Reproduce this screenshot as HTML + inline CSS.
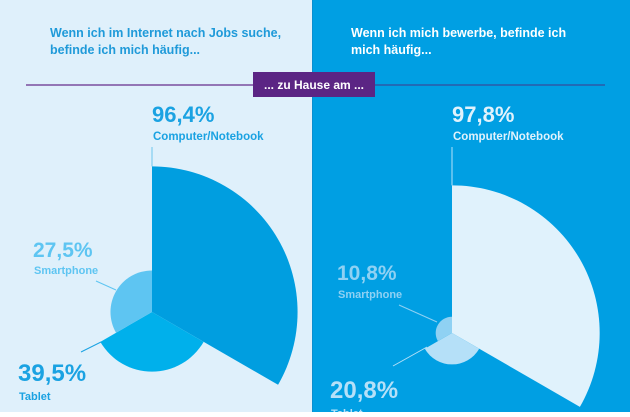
<!DOCTYPE html>
<html><head><meta charset="utf-8"><style>
html,body{margin:0;padding:0;}
body{width:630px;height:412px;overflow:hidden;font-family:"Liberation Sans","DejaVu Sans",sans-serif;}
</style></head><body>
<svg id="chart" width="630" height="412" viewBox="0 0 630 412" xmlns="http://www.w3.org/2000/svg" font-family="Liberation Sans, DejaVu Sans, sans-serif">
<rect x="0" y="0" width="312" height="412" fill="#dff0fb"/>
<rect x="312" y="0" width="318" height="412" fill="#009fe3"/>
<line x1="312.5" y1="0" x2="312.5" y2="412" stroke="#0a8fd0" stroke-width="1"/>
<text font-size="12.5" font-weight="bold" fill="#1f9ad9"><tspan x="50" y="37">Wenn ich im Internet nach Jobs suche,</tspan><tspan x="50" y="54">befinde ich mich häufig...</tspan></text>
<text font-size="12.5" font-weight="bold" fill="#ffffff"><tspan x="351" y="37">Wenn ich mich bewerbe, befinde ich</tspan><tspan x="351" y="54">mich häufig...</tspan></text>
<line x1="26" y1="85" x2="253" y2="85" stroke="#7a4d9e" stroke-width="1.5"/>
<line x1="374" y1="85" x2="605" y2="85" stroke="#2c5aa8" stroke-width="1.5"/>
<rect x="253" y="72" width="122" height="25" fill="#5b2584"/>
<text x="314" y="89" text-anchor="middle" font-size="12" font-weight="bold" fill="#ffffff">... zu Hause am ...</text>
<g id="marks"></g>
</svg>
<script>
const categories = ["Computer/Notebook", "Tablet", "Smartphone"];
const searchValues = [96.4, 39.5, 27.5];
const applyValues = [97.8, 20.8, 10.8];
const valueLabelsSearch = ["96,4%", "39,5%", "27,5%"];
const valueLabelsApply = ["97,8%", "20,8%", "10,8%"];

const NS = "http://www.w3.org/2000/svg";
const g = document.getElementById("marks");
const SCALE = 1.51;
function rScale(v){ return v * SCALE; }
function pt(cx, cy, r, deg){ const a = (deg - 90) * Math.PI / 180; return [cx + r * Math.cos(a), cy + r * Math.sin(a)]; }
function sector(cx, cy, r, a0, a1){
  const p0 = pt(cx, cy, r, a0), p1 = pt(cx, cy, r, a1);
  return `M${cx},${cy}L${p0[0]},${p0[1]}A${r},${r} 0 0 1 ${p1[0]},${p1[1]}Z`;
}
function mk(tag, attrs){ const e = document.createElementNS(NS, tag); for (const k in attrs) e.setAttribute(k, attrs[k]); g.appendChild(e); return e; }

function drawPanel(side, cx, cy, values, labels, fills, txt, leader){
  values.forEach((v, i) => {
    const p = mk("path", {d: sector(cx, cy, rScale(v), i * 120, (i + 1) * 120), fill: fills[i]});
    
    
  });
  const rc = rScale(values[0]);
  const l0 = mk("line", {x1: cx, y1: 147, x2: cx, y2: cy - rc, stroke: leader, "stroke-width": 1});
  
  
  const t0 = mk("text", {x: cx, y: 122, "font-size": 22, "font-weight": "bold", fill: txt.big});
  t0.textContent = labels[0];
  
  
  const c0 = mk("text", {x: cx + 1, y: 140, "font-size": 11.5, "font-weight": "bold", fill: txt.big});
  c0.textContent = categories[0];
  
  
  return rc;
}

drawPanel("search", 152, 312, searchValues, valueLabelsSearch, ["#009ee0", "#00b0eb", "#5ec5f2"], {big: "#1aa2e2"}, "#6cc6ee");
drawPanel("apply", 452, 333, applyValues, valueLabelsApply, ["#e0f2fc", "#b5e0f8", "#8fd1f3"], {big: "#e0f2fc"}, "#b5e0f8");

function addLabel(name, x, yv, value, cat, color, size, gap){
  const t = mk("text", {x: x, y: yv, "font-size": size, "font-weight": "bold", fill: color});
  t.textContent = value;
  
  
  const c = mk("text", {x: x + 1, y: yv + gap, "font-size": 11, "font-weight": "bold", fill: color});
  c.textContent = cat;
  
  
}
function addLeader(name, x1, y1, x2, y2, color){
  const l = mk("line", {x1, y1, x2, y2, stroke: color, "stroke-width": 1});
  
  
}
addLabel("search-smartphone", 33, 257, valueLabelsSearch[2], categories[2], "#5ec5f2", 21, 17);
addLeader("search-smartphone-leader", 96, 281, 116, 290, "#5ec5f2");
addLabel("search-tablet", 18, 381, valueLabelsSearch[1], categories[1], "#1aa2e2", 24, 19);
addLeader("search-tablet-leader", 81, 352, 101, 342, "#1aa2e2");
addLabel("apply-smartphone", 337, 280, valueLabelsApply[2], categories[2], "#8fd1f3", 21, 18);
addLeader("apply-smartphone-leader", 399, 305, 437, 322, "#8fd1f3");
addLabel("apply-tablet", 330, 398, valueLabelsApply[1], categories[1], "#b5e0f8", 24, 19);
addLeader("apply-tablet-leader", 393, 366, 427, 347, "#b5e0f8");
</script>
</body></html>
